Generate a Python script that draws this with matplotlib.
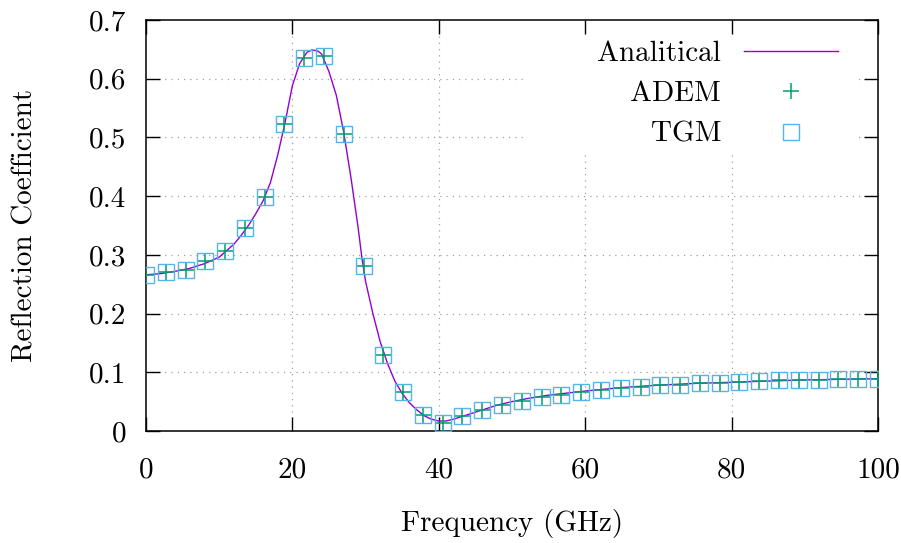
import matplotlib
matplotlib.use("Agg")
import matplotlib.pyplot as plt
from matplotlib.patches import Rectangle
import numpy as np

plt.rcParams['font.family'] = ['cmr10', 'DejaVu Serif']
plt.rcParams['axes.formatter.use_mathtext'] = True
plt.rcParams['mathtext.fontset'] = 'cm'

# analytical curve
freq_curve = [0, 2, 4, 6, 8, 10, 12, 13, 14, 15, 16, 17, 18, 19, 20, 21, 22,
              22.7, 23.5, 24, 25, 26, 27, 28, 29, 29.5, 30, 31, 32, 33, 34,
              35, 36, 37, 38, 39, 40, 41, 42, 44, 46, 48, 50, 52, 55, 60, 65,
              70, 75, 80, 85, 90, 95, 100]
refl_curve = [0.266, 0.268, 0.272, 0.277, 0.285, 0.296, 0.318, 0.333, 0.350,
              0.370, 0.392, 0.423, 0.470, 0.525, 0.588, 0.626, 0.645, 0.649,
              0.647, 0.642, 0.612, 0.572, 0.510, 0.432, 0.345, 0.295, 0.255,
              0.200, 0.152, 0.115, 0.085, 0.064, 0.048, 0.036, 0.026, 0.020,
              0.017, 0.017, 0.020, 0.028, 0.036, 0.044, 0.050, 0.055, 0.061,
              0.068, 0.074, 0.078, 0.081, 0.083, 0.085, 0.087, 0.088, 0.089]

# ADEM / TGM samples (38 frequencies, 0..100 GHz)
freq_pts = np.linspace(0, 100, 38)
refl_adem = [0.265, 0.271, 0.274, 0.290, 0.306, 0.345, 0.399, 0.523, 0.635,
             0.639, 0.506, 0.281, 0.129, 0.066, 0.027, 0.014, 0.026, 0.035,
             0.045, 0.051, 0.058, 0.062, 0.066, 0.069, 0.073, 0.075, 0.078,
             0.079, 0.081, 0.082, 0.083, 0.085, 0.086, 0.086, 0.087, 0.088,
             0.089, 0.089]
refl_tgm = list(refl_adem)

xticks = [0, 20, 40, 60, 80, 100]
xlabels = ['0', '20', '40', '60', '80', '100']
yticks = [0, 0.1, 0.2, 0.3, 0.4, 0.5, 0.6, 0.7]
ylabels = ['0', '0.1', '0.2', '0.3', '0.4', '0.5', '0.6', '0.7']

fig = plt.figure(figsize=(9.01, 5.43), dpi=100)
ax = fig.add_axes([0.162, 0.2063, 0.8124, 0.7569])

fs = 21
grid_kw = dict(color='#a0a0a0', lw=0.9, ls=(0, (1, 4)), zorder=0.3)
for v in xticks[1:-1]:
    ax.axvline(v, **grid_kw)
for v in yticks[1:-1]:
    ax.axhline(v, **grid_kw)

# white key box (covers grid, like gnuplot's opaque key)
ax.add_patch(Rectangle((0.515, 0.672), 0.458, 0.328, transform=ax.transAxes,
                       facecolor='white', edgecolor='none', zorder=0.6))

ax.plot(freq_curve, refl_curve, color='#9400D3', lw=1.0, label='Analitical', zorder=3)
ax.plot(freq_pts, refl_adem, ls='none', marker='+', ms=11.5, mew=1.1,
        color='#009E73', label='ADEM', zorder=4)
ax.plot(freq_pts, refl_tgm, ls='none', marker='s', ms=11.5, mew=1.0,
        mfc='none', mec='#56B4E9', label='TGM', zorder=5)

ax.set_xlim(0, 100)
ax.set_ylim(0, 0.7)
ax.set_xticks(xticks)
ax.set_xticklabels(xlabels)
ax.set_yticks(yticks)
ax.set_yticklabels(ylabels)
ax.tick_params(direction='in', length=10, width=1.0, top=True, right=True,
               labelsize=fs)
ax.tick_params(axis='x', pad=19)
ax.tick_params(axis='y', pad=14)
for s in ax.spines.values():
    s.set_linewidth(1.1)

ax.set_xlabel('Frequency (GHz)', fontsize=fs)
ax.set_ylabel('Reflection Coefficient', fontsize=fs)
ax.xaxis.set_label_coords(0.5, -0.19)
ax.yaxis.set_label_coords(-0.147, 0.5)

leg = ax.legend(loc='upper right', bbox_to_anchor=(0.945, 0.95), frameon=False,
                fontsize=fs, markerfirst=False, handlelength=3.2,
                handletextpad=0.8, labelspacing=0.48, borderpad=0,
                borderaxespad=0)

fig.savefig('out.png', dpi=100, facecolor='white')
